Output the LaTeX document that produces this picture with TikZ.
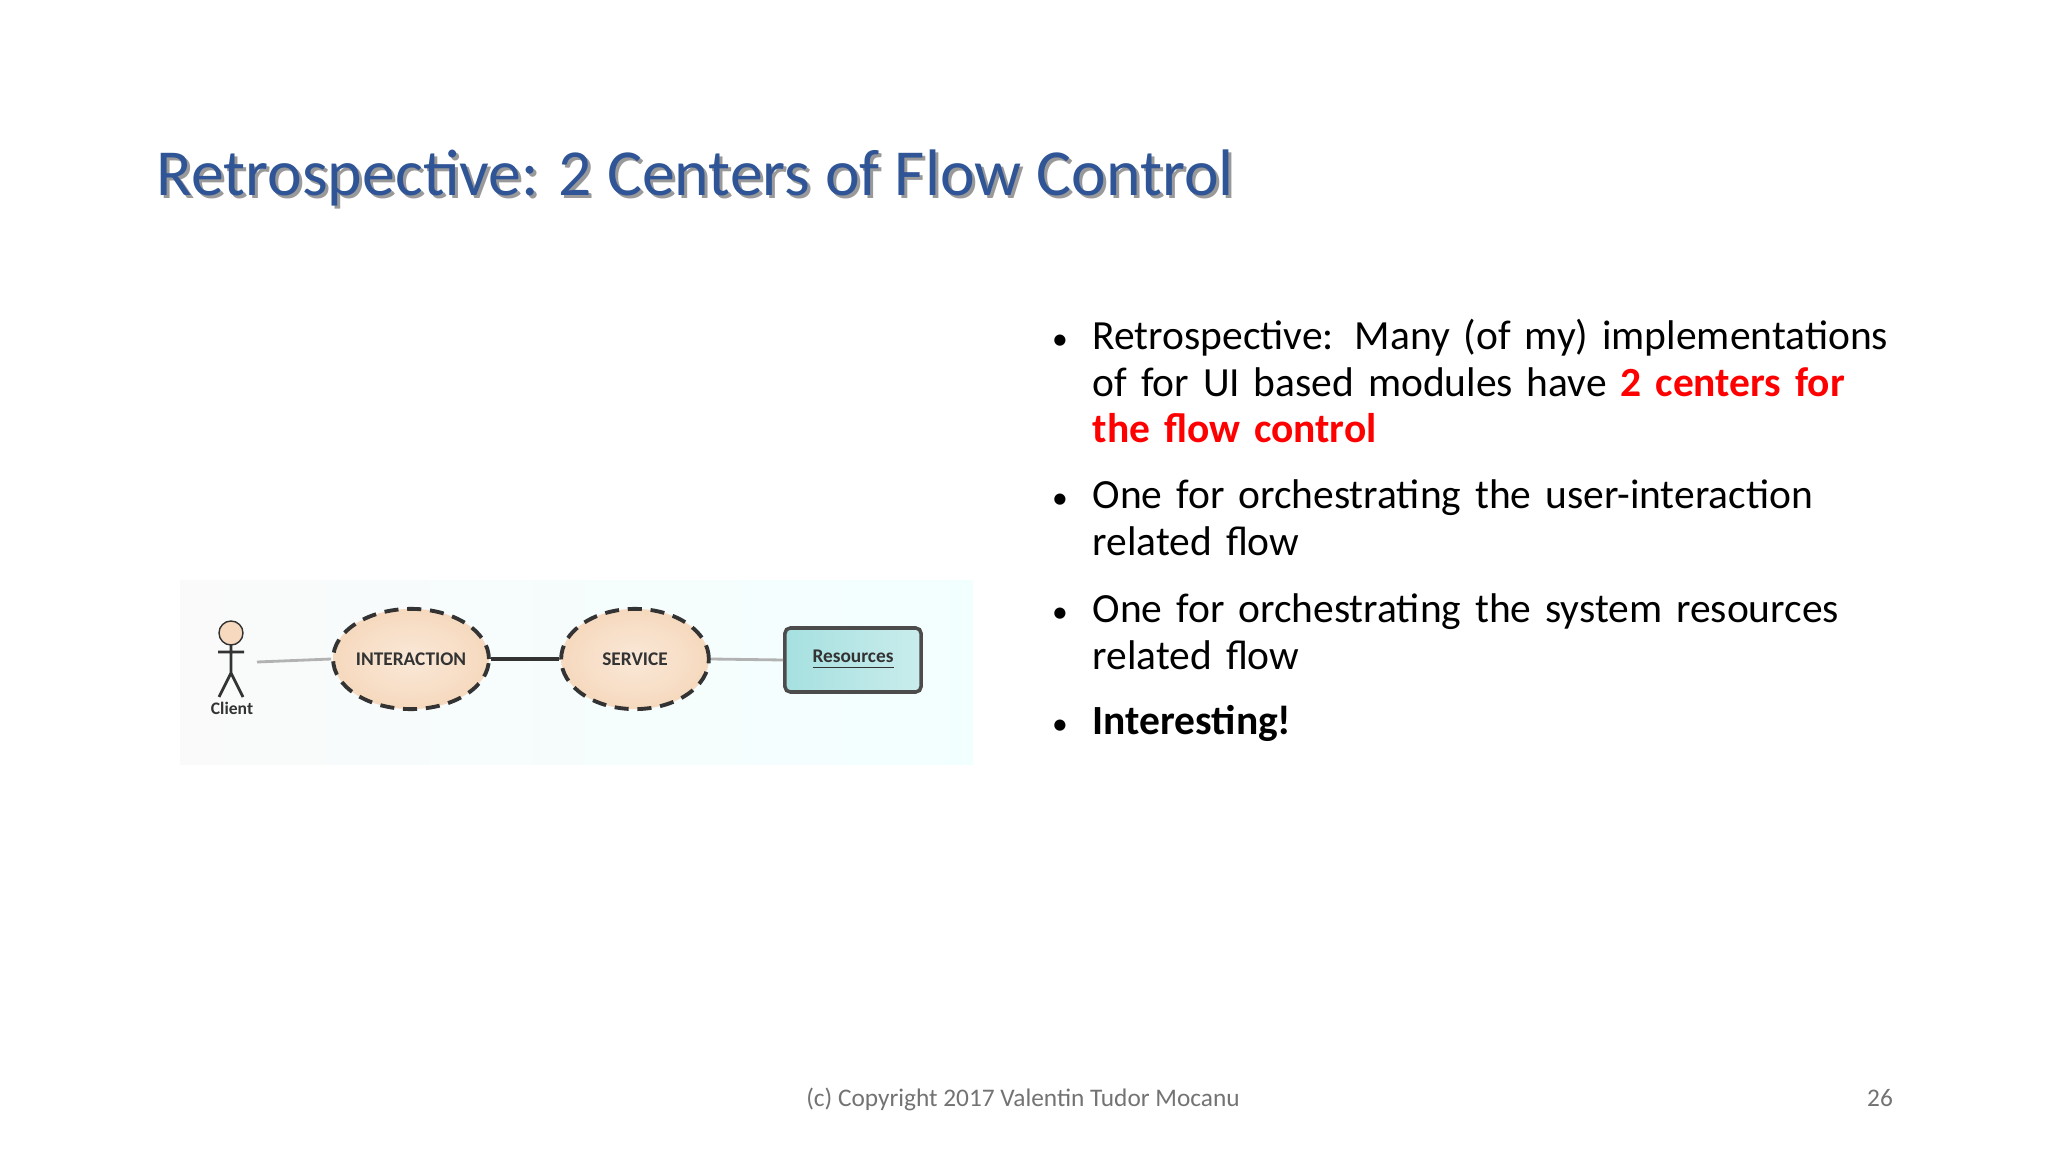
\documentclass[tikz,border=0pt]{standalone}
\usepackage{fontspec}
\setmainfont{Carlito}
\usetikzlibrary{shapes.geometric}
\definecolor{titleblue}{HTML}{2F5597}
\definecolor{peach}{HTML}{F6D9BE}
\definecolor{teal}{HTML}{A6E0E0}
\begin{document}
\begin{tikzpicture}[x=0.01cm,y=-0.01cm,
  uc/.style={ellipse,draw=black!80,dashed,line width=1.1pt,dash pattern=on 4pt off 2.5pt,
    inner color=peach!60,outer color=peach,minimum width=42pt,minimum height=28.5pt,inner sep=0pt,font=\bfseries\fontsize{5.5}{6}\selectfont,text=black!80},
  btxt/.style={anchor=base west,font=\fontsize{11.8}{13.1}\selectfont,text width=260pt,align=left,inner sep=0pt},
  bdot/.style={anchor=base,font=\fontsize{9}{10}\selectfont}]
\useasboundingbox (0,0) rectangle (2048,1152);
\fill[white] (0,0) rectangle (2048,1152);
% title
\node[anchor=base west,text=black!40,font=\fontsize{18.7}{20}\selectfont,inner sep=0pt] at (159,199) {Retrospective: 2 Centers of Flow Control};
\node[anchor=base west,text=titleblue,font=\fontsize{18.7}{20}\selectfont,inner sep=0pt] (title) at (156,196) {Retrospective: 2 Centers of Flow Control};
% diagram background
\shade[left color=black!2,right color=cyan!5] (180,581) rectangle (973,764);
% client
\draw[black!80,fill=peach] (231,633) circle (12);
\draw[black!80,line width=0.8pt] (231,645) -- (231,673) (218,652) -- (244,652) (231,673) -- (219,697) (231,673) -- (243,697);
\node[font=\bfseries\fontsize{5}{6}\selectfont,text=black!80] (client) at (232,708) {Client};
\coordinate (cl) at (257,662);
\node[uc] (inter) at (411,659) {INTERACTION};
\node[uc] (serv) at (635,659) {SERVICE};
\node[draw=black!70,line width=1pt,rounded corners=1.5pt,left color=teal,right color=teal!60,minimum width=38.7pt,minimum height=18.2pt,font=\bfseries\fontsize{5.5}{6}\selectfont,text=black!80] (res) at (853,660) {\underline{Resources}};
\draw[black!30,line width=0.8pt] (cl) -- (inter.west);
\draw[black!80,line width=1pt] (inter.east) -- (serv.west);
\draw[black!30,line width=0.8pt] (serv.east) -- (res.west);
% bullets
\node[bdot] (b1d) at (1060,350) {•};
\node[btxt] (b1) at (1092,350) {Retrospective: Many (of my) implementations\\of for UI based modules have \textcolor{red}{\bfseries 2 centers for}\\\textcolor{red}{\bfseries the flow control}};
\node[bdot] (b2d) at (1060,509) {•};
\node[btxt] (b2) at (1092,509) {One for orchestrating the user-interaction\\related flow};
\node[bdot] (b3d) at (1060,623) {•};
\node[btxt] (b3) at (1092,623) {One for orchestrating the system resources\\related flow};
\node[bdot] (b4d) at (1060,735) {•};
\node[btxt] (b4) at (1092,735) {\bfseries Interesting!};
% footer
\node[anchor=base,text=black!55,font=\fontsize{7.2}{8}\selectfont] (foot) at (1023,1106) {(c) Copyright 2017 Valentin Tudor Mocanu};
\node[anchor=base,text=black!55,font=\fontsize{7.2}{8}\selectfont] (pg) at (1880,1106) {26};
\end{tikzpicture}
\end{document}
